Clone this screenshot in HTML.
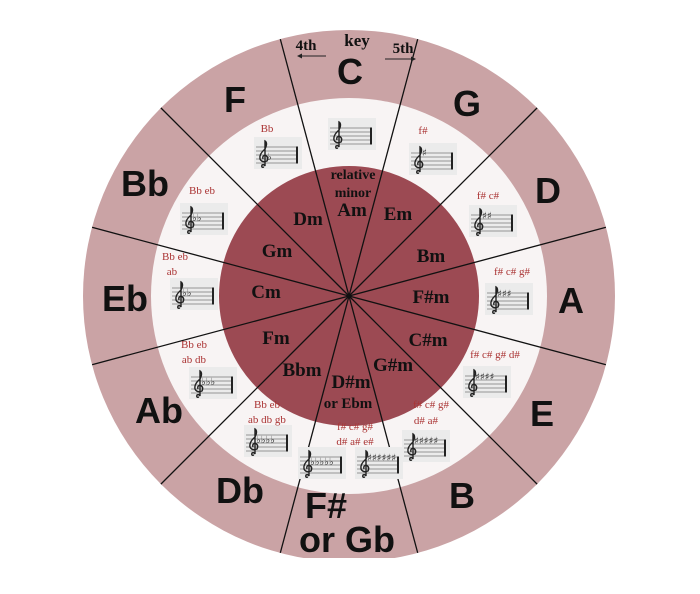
<!DOCTYPE html>
<html><head><meta charset="utf-8"><style>
html,body{margin:0;padding:0;background:#fff;}
svg{display:block;}
.k{font-family:"Liberation Sans",sans-serif;font-weight:bold;font-size:36px;fill:#111;text-anchor:middle;}
.m{font-family:"Liberation Serif",serif;font-weight:bold;font-size:19px;fill:#111;text-anchor:middle;}
.a{font-family:"Liberation Serif",serif;font-size:11px;fill:#a33;text-anchor:middle;}
.acc{font-family:"DejaVu Sans",sans-serif;font-size:10px;fill:#333;}
</style></head><body>
<svg width="700" height="594" viewBox="0 0 700 594" xmlns="http://www.w3.org/2000/svg">
<defs>
<g id="st">
<rect x="0" y="0" width="48" height="32" fill="#ebebeb"/>
<g stroke="#777" stroke-width="0.8">
<line x1="2" y1="10" x2="44" y2="10"/><line x1="2" y1="14" x2="44" y2="14"/><line x1="2" y1="18" x2="44" y2="18"/><line x1="2" y1="22" x2="44" y2="22"/><line x1="2" y1="26" x2="44" y2="26"/>
</g>
<line x1="43" y1="9.5" x2="43" y2="26.5" stroke="#222" stroke-width="2"/>
<path d="M10 30 Q7 31 8 28 Q10 27 11 29 L11 4 Q14 6 11 12 Q5 17 6 22 Q8 26 13 24 Q15 20 11 18 Q8 19 9 22" fill="none" stroke="#222" stroke-width="1.4"/>
</g>
<clipPath id="cc"><circle cx="349" cy="296" r="266"/></clipPath>
</defs>
<circle cx="349" cy="296" r="266" fill="#caa3a5"/>
<circle cx="349" cy="296" r="198" fill="#f8f4f4"/>
<circle cx="349" cy="296" r="130" fill="#9c4a53"/>
<g clip-path="url(#cc)" stroke="#111" stroke-width="1.3">
<line x1="349" y1="296" x2="280" y2="38"/>
<line x1="349" y1="296" x2="418" y2="38"/>
<line x1="349" y1="296" x2="538" y2="107"/>
<line x1="349" y1="296" x2="607" y2="227"/>
<line x1="349" y1="296" x2="607" y2="365"/>
<line x1="349" y1="296" x2="538" y2="485"/>
<line x1="349" y1="296" x2="418" y2="554"/>
<line x1="349" y1="296" x2="280" y2="554"/>
<line x1="349" y1="296" x2="160" y2="485"/>
<line x1="349" y1="296" x2="91" y2="365"/>
<line x1="349" y1="296" x2="91" y2="227"/>
<line x1="349" y1="296" x2="160" y2="107"/>
</g>
<rect x="0" y="558" width="700" height="36" fill="#fff"/>
<text class="m" x="357" y="46" style="font-size:17px">key</text>
<text class="m" x="306" y="50" style="font-size:15px">4th</text>
<text class="m" x="403" y="53" style="font-size:15px">5th</text>
<line x1="298" y1="56" x2="326" y2="56" stroke="#222"/><path d="M297 56 l5 -2.5 v5z" fill="#222"/>
<line x1="385" y1="59" x2="413" y2="59" stroke="#222"/><path d="M416 59 l-5 -2.5 v5z" fill="#222"/>
<text class="k" x="350" y="84">C</text>
<text class="k" x="467" y="116">G</text>
<text class="k" x="548" y="203">D</text>
<text class="k" x="571" y="313">A</text>
<text class="k" x="542" y="426">E</text>
<text class="k" x="462" y="508">B</text>
<text class="k" x="326" y="518">F#</text>
<text class="k" x="347" y="552">or Gb</text>
<text class="k" x="240" y="503">Db</text>
<text class="k" x="159" y="423">Ab</text>
<text class="k" x="125" y="311">Eb</text>
<text class="k" x="145" y="196">Bb</text>
<text class="k" x="235" y="112">F</text>
<use href="#st" x="328" y="118"/>
<use href="#st" x="254" y="137"/><text class="acc" x="267" y="160">♭</text>
<use href="#st" x="409" y="143"/><text class="acc" x="422" y="156">♯</text>
<use href="#st" x="469" y="205"/><text class="acc" x="482" y="219">♯♯</text>
<use href="#st" x="485" y="283"/><text class="acc" x="497" y="297">♯♯♯</text>
<use href="#st" x="463" y="366"/><text class="acc" x="475" y="380">♯♯♯♯</text>
<use href="#st" x="402" y="430"/><text class="acc" x="414" y="444">♯♯♯♯♯</text>
<use href="#st" x="355" y="447"/><text class="acc" x="367" y="461">♯♯♯♯♯♯</text>
<use href="#st" x="298" y="447"/><text class="acc" x="310" y="465">♭♭♭♭♭</text>
<use href="#st" x="244" y="425"/><text class="acc" x="256" y="443">♭♭♭♭</text>
<use href="#st" x="189" y="367"/><text class="acc" x="201" y="385">♭♭♭</text>
<use href="#st" x="170" y="278"/><text class="acc" x="182" y="296">♭♭</text>
<use href="#st" x="180" y="203"/><text class="acc" x="192" y="221">♭♭</text>
<text class="a" x="267" y="132">Bb</text>
<text class="a" x="423" y="134">f#</text>
<text class="a" x="488" y="199">f# c#</text>
<text class="a" x="512" y="275">f# c# g#</text>
<text class="a" x="495" y="358">f# c# g# d#</text>
<text class="a" x="431" y="408">f# c# g#</text>
<text class="a" x="426" y="424">d# a#</text>
<text class="a" x="355" y="430">f# c# g#</text>
<text class="a" x="355" y="445">d# a# e#</text>
<text class="a" x="267" y="408">Bb eb</text>
<text class="a" x="267" y="423">ab db gb</text>
<text class="a" x="194" y="348">Bb eb</text>
<text class="a" x="194" y="363">ab db</text>
<text class="a" x="175" y="260">Bb eb</text>
<text class="a" x="172" y="275">ab</text>
<text class="a" x="202" y="194">Bb eb</text>
<text class="m" x="353" y="179" style="font-size:14px">relative</text>
<text class="m" x="353" y="197" style="font-size:14px">minor</text>
<text class="m" x="352" y="216">Am</text>
<text class="m" x="398" y="220">Em</text>
<text class="m" x="431" y="262">Bm</text>
<text class="m" x="431" y="303">F#m</text>
<text class="m" x="428" y="346">C#m</text>
<text class="m" x="393" y="371">G#m</text>
<text class="m" x="351" y="388">D#m</text>
<text class="m" x="348" y="408" style="font-size:15px">or Ebm</text>
<text class="m" x="302" y="376">Bbm</text>
<text class="m" x="276" y="344">Fm</text>
<text class="m" x="266" y="298">Cm</text>
<text class="m" x="277" y="257">Gm</text>
<text class="m" x="308" y="225">Dm</text>
</svg>
</body></html>
